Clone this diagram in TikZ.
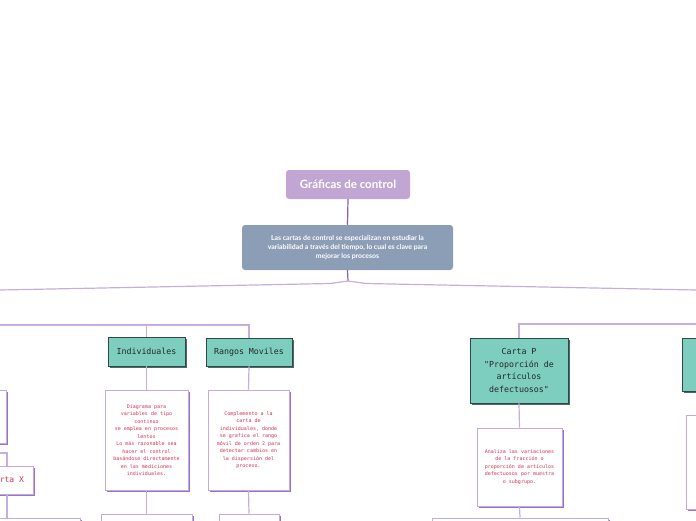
\documentclass[tikz,border=0pt]{standalone}
\usepackage{fontspec}
\setmainfont{Lato}
\newfontfamily\monof{DejaVu Sans Mono}
\usetikzlibrary{shadows}
\definecolor{titlefill}{HTML}{C1A5D3}
\definecolor{descfill}{HTML}{8C9EB6}
\definecolor{tealfill}{HTML}{7ECEC0}
\definecolor{tealdraw}{HTML}{2E4A48}
\definecolor{tealshadow}{HTML}{4A6A66}
\definecolor{boxdraw}{HTML}{C4A9DC}
\definecolor{boxshadow}{HTML}{9C6FC8}
\definecolor{conn}{HTML}{C6ADDD}
\definecolor{connmain}{HTML}{9457BE}
\definecolor{redtext}{HTML}{D6314E}
\tikzset{
  x=1pt,y=-1pt,
  titlebox/.style={fill=titlefill, rounded corners=3pt, text=white, font=\fontsize{11.5}{13}\selectfont\bfseries, minimum width=124pt, minimum height=29pt, inner sep=0pt},
  topdesc/.style={fill=descfill, rounded corners=3pt, text=white, font=\fontsize{6.9}{9}\selectfont\bfseries, minimum width=211pt, minimum height=45pt, inner sep=0pt, align=center},
  tealbox/.style={fill=tealfill, draw=tealdraw, line width=0.8pt, text=black!85, font=\monof\fontsize{8.3}{12.5}\selectfont, inner sep=0pt, align=center,
     drop shadow={shadow xshift=1.6pt, shadow yshift=-1.6pt, fill=tealshadow, opacity=1}},
  whitebox/.style={fill=white, draw=boxdraw, line width=1pt, text=redtext, font=\monof\fontsize{5}{7.5}\selectfont, inner sep=0pt, align=center,
     drop shadow={shadow xshift=1.8pt, shadow yshift=-1.8pt, fill=boxshadow, opacity=1}},
  connector/.style={draw=conn, line width=1.2pt},
  mainconn/.style={draw=connmain, line width=1.2pt},
}
\begin{document}
\begin{tikzpicture}
\useasboundingbox (0,0) rectangle (696,520);
\begin{scope}
\clip (0,0) rectangle (696,520);
% title and description
\node[titlebox] (t) at (348,184.5) {Gráficas de control};
\node[topdesc] (d) at (347.5,247.5) {Las cartas de control se especializan en estudiar la\\variabilidad a través del tiempo, lo cual es clave para\\mejorar los procesos};
\coordinate (b) at (348,281);
\coordinate (bl) at (330,283.5);
\coordinate (br) at (366,283.5);
\coordinate (lft) at (0,290);
\coordinate (rgt) at (696,290);
\draw[mainconn] (t.south) -- (d.north);
\draw[mainconn] (d.south) -- (b);
\draw[connector] (b) -- (bl) -- (lft);
\draw[connector] (b) -- (br) -- (rgt);

% left group
\node[tealbox, minimum width=77pt, minimum height=29pt] (ind) at (146.5,351.5) {Individuales};
\node[tealbox, minimum width=86pt, minimum height=28pt] (rang) at (249,352) {Rangos Moviles};
\node[whitebox, minimum width=83pt, minimum height=100pt] (indd) at (146.5,440) {Diagrama para\\variables de tipo\\continuo\\se emplea en procesos\\lentos\\Lo más razonable sea\\hacer el control\\basándose directamente\\en las mediciones\\individuales.};
\node[whitebox, minimum width=81pt, minimum height=100pt] (rangd) at (248.5,440) {Complemento a la\\carta de\\individuales, donde\\se grafica el rango\\móvil de orden 2 para\\detectar cambios en\\la dispersión del\\proceso.};
\node[whitebox, minimum width=91pt, minimum height=50pt] (indb) at (146.5,539) {};
\node[whitebox, minimum width=60pt, minimum height=50pt] (rangb) at (249,539) {};
\coordinate (lh) at (0,325);
\draw[connector] (lh) -- (rang.north |- lh) -- (rang.north);
\draw[connector] (ind.north |- lh) -- (ind.north);
\draw[connector] (ind.south) -- (indd.north);
\draw[connector] (rang.south) -- (rangd.north);
\draw[connector] (indd.south) -- (indb.north);
\draw[connector] (rangd.south) -- (rangb.north);

% far left
\node[whitebox, minimum width=66pt, minimum height=53pt] (lb) at (-27,416.5) {};
\node[whitebox, minimum width=52pt, minimum height=28pt, font=\monof\fontsize{8}{10}\selectfont] (cx) at (7,480) {Carta X};
\node[whitebox, minimum width=130pt, minimum height=50pt] (lb2) at (15,543) {};
\coordinate (cxa) at (0,453);
\draw[connector] (cxa) -| (cx.north);
\draw[connector] (cx.south) -- (cx.south |- lb2.north);

% right group
\node[tealbox, minimum width=98pt, minimum height=65pt] (cp) at (519,370.5) {Carta P\\"Proporción de\\artículos\\defectuosos"};
\node[whitebox, minimum width=85pt, minimum height=78pt] (cpd) at (519.5,467) {Analiza las variaciones\\de la fracción o\\proporción de artículos\\defectuosos por muestra\\o subgrupo.};
\node[whitebox, minimum width=176pt, minimum height=50pt] (cpb) at (520,543) {};
\node[tealbox, minimum width=80pt, minimum height=53pt] (rt) at (722,364.5) {};
\node[whitebox, minimum width=84pt, minimum height=94pt] (rtd) at (728,462) {};
\coordinate (rh) at (696,324);
\draw[connector] (rh) -- (cp.north |- rh) -- (cp.north);
\draw[connector] (cp.south) -- (cpd.north);
\draw[connector] (cpd.south) -- (cpb.north);
\end{scope}
\end{tikzpicture}
\end{document}
